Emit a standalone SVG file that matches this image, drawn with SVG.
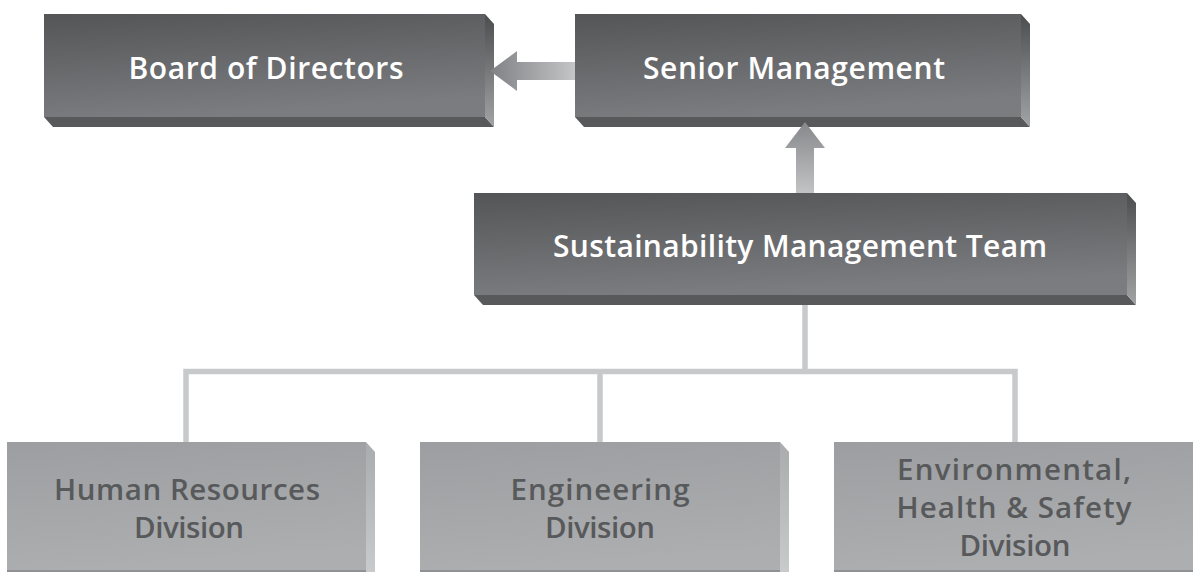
<svg xmlns="http://www.w3.org/2000/svg" width="1193" height="572" viewBox="0 0 1193 572">
  <defs>
    <linearGradient id="darkFront" x1="0" y1="0" x2="0.25" y2="1">
      <stop offset="0" stop-color="#545557"/>
      <stop offset="1" stop-color="#7b7c7f"/>
    </linearGradient>
    <linearGradient id="darkSide" x1="0" y1="0" x2="0" y2="1">
      <stop offset="0" stop-color="#4c4d4f"/>
      <stop offset="1" stop-color="#a2a3a5"/>
    </linearGradient>
    <linearGradient id="lightFront" x1="0" y1="0" x2="0.2" y2="1">
      <stop offset="0" stop-color="#9c9ea1"/>
      <stop offset="1" stop-color="#acaeb0"/>
    </linearGradient>
    <linearGradient id="lightSide" x1="0" y1="0" x2="0" y2="1">
      <stop offset="0" stop-color="#a9abad"/>
      <stop offset="1" stop-color="#c9cacb"/>
    </linearGradient>
    <linearGradient id="arrowH" x1="0" y1="0" x2="1" y2="0">
      <stop offset="0" stop-color="#808184"/>
      <stop offset="1" stop-color="#c4c5c7"/>
    </linearGradient>
    <linearGradient id="arrowV" x1="0" y1="0" x2="0" y2="1">
      <stop offset="0" stop-color="#87888b"/>
      <stop offset="1" stop-color="#c2c3c5"/>
    </linearGradient>
    <style>
      .front { fill: url(#darkFront); }
      .side { fill: url(#darkSide); }
      .bottom { fill: #58595b; }
      .lfront { fill: url(#lightFront); }
      .lside { fill: url(#lightSide); }
      .lbottom { fill: #8f9194; }
      .t { font-family: "Open Sans", "Noto Sans", sans-serif; font-weight: 600; font-size: 30px; fill: #ffffff; text-anchor: middle; }
      .lt { font-family: "Open Sans", "Noto Sans", sans-serif; font-weight: 600; font-size: 29.5px; fill: #58595b; text-anchor: middle; }
      .tree { fill: none; stroke: #c8c9ca; stroke-width: 5.5; stroke-linecap: butt; stroke-linejoin: miter; }
    </style>
  </defs>

  <g id="connectors">
    <path class="tree" d="M805,305 V371.5 M186,443 V371.5 H1015 V443 M600,371.5 V443"/>
  </g>

  <g id="board">
    <polygon class="bottom" points="44,117 485,117 494,127 53,127"/>
    <polygon class="side" points="485,14 494,24 494,127 485,117"/>
    <rect class="front" x="44" y="14" width="441" height="103"/>
    <text class="t" x="266" y="79" textLength="275" lengthAdjust="spacing">Board of Directors</text>
  </g>

  <g id="senior">
    <polygon class="bottom" points="575,117 1021,117 1030,127 584,127"/>
    <polygon class="side" points="1021,14 1030,24 1030,127 1021,117"/>
    <rect class="front" x="575" y="14" width="446" height="103"/>
    <text class="t" x="794" y="79" textLength="302" lengthAdjust="spacing">Senior Management</text>
  </g>

  <g id="sustainability">
    <polygon class="bottom" points="474,295 1127,295 1136,305 483,305"/>
    <polygon class="side" points="1127,193 1136,203 1136,305 1127,295"/>
    <rect class="front" x="474" y="193" width="653" height="102"/>
    <text class="t" x="800" y="257" textLength="494" lengthAdjust="spacing">Sustainability Management Team</text>
  </g>

  <g id="hr">
    <polygon class="lside" points="366,442 375,452 375,572 366,572"/>
    <rect class="lfront" x="7" y="442" width="359" height="130"/>
    <rect class="lbottom" x="7" y="570" width="359" height="2"/>
    <text class="lt" x="187" y="500" textLength="266" lengthAdjust="spacing">Human Resources</text>
    <text class="lt" x="189" y="538" textLength="110" lengthAdjust="spacing">Division</text>
  </g>

  <g id="engineering">
    <polygon class="lside" points="780,442 789,452 789,572 780,572"/>
    <rect class="lfront" x="420" y="442" width="360" height="130"/>
    <rect class="lbottom" x="420" y="570" width="360" height="2"/>
    <text class="lt" x="600" y="500" textLength="179" lengthAdjust="spacing">Engineering</text>
    <text class="lt" x="600" y="538" textLength="110" lengthAdjust="spacing">Division</text>
  </g>

  <g id="ehs">
    <rect class="lfront" x="834" y="442" width="370" height="130"/>
    <rect class="lbottom" x="834" y="570" width="370" height="2"/>
    <text class="lt" x="1014" y="480" textLength="234" lengthAdjust="spacing">Environmental,</text>
    <text class="lt" x="1014" y="518" textLength="235" lengthAdjust="spacing">Health &amp; Safety</text>
    <text class="lt" x="1015" y="556" textLength="111" lengthAdjust="spacing">Division</text>
  </g>

  <g id="arrows">
    <polygon fill="url(#arrowH)" points="490,71 517,51 517,62 575,62 575,80 517,80 517,91"/>
    <polygon fill="url(#arrowV)" points="805,122 825,148 814,148 814,193 796,193 796,148 785,148"/>
  </g>
</svg>
